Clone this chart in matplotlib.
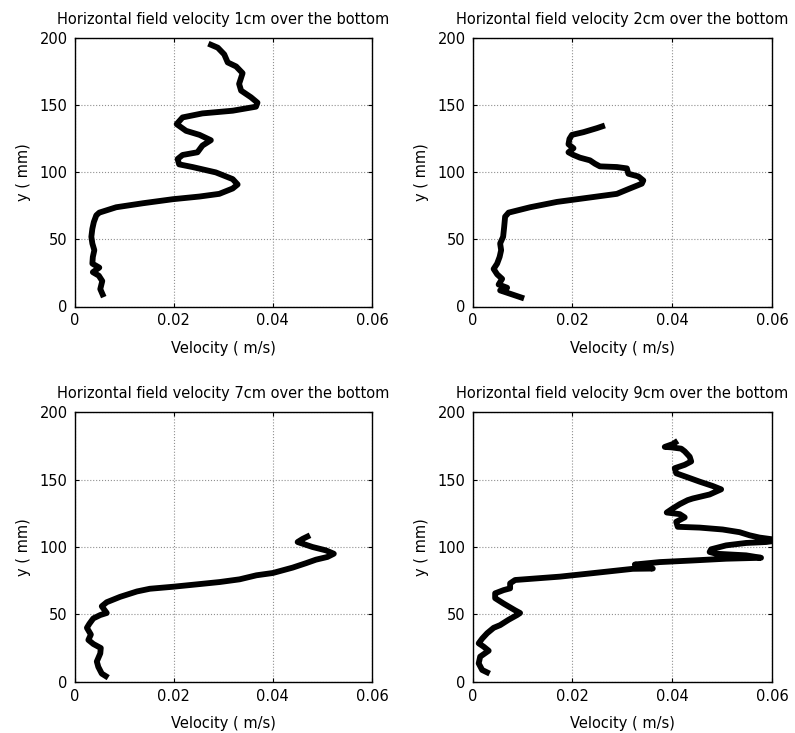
import matplotlib
matplotlib.use("Agg")
import matplotlib.pyplot as plt

plt.rcParams['font.family'] = ['DejaVu Sans']

titles = [
    "Horizontal field velocity 1cm over the bottom",
    "Horizontal field velocity 2cm over the bottom",
    "Horizontal field velocity 7cm over the bottom",
    "Horizontal field velocity 9cm over the bottom",
]

v1 = [0.0059, 0.0052, 0.0056, 0.0049, 0.0037, 0.0050, 0.0036, 0.0037, 0.0040, 0.0036,
      0.0034, 0.0036, 0.0039, 0.0044, 0.0050, 0.0084, 0.0138, 0.0198, 0.0252, 0.0292,
      0.0319, 0.0329, 0.0319, 0.0285, 0.0238, 0.0211, 0.0208, 0.0218, 0.0248, 0.0258,
      0.0275, 0.0252, 0.0225, 0.0206, 0.0218, 0.0258, 0.0319, 0.0366, 0.0369, 0.0356,
      0.0336, 0.0332, 0.0339, 0.0326, 0.0309, 0.0302, 0.0289, 0.0270]
y1 = [7, 13, 19, 23, 25.6, 29, 32, 37, 42, 47,
      52, 58, 63, 68, 70, 74, 77, 80, 82, 84,
      88, 91, 95, 100, 104, 106, 110, 113, 115, 120,
      124, 128, 131, 136, 141, 144, 146, 149, 152, 156,
      161, 166, 174, 179, 182, 188, 193, 196]

v2 = [0.0103, 0.0075, 0.0055, 0.0069, 0.0052, 0.0059, 0.0049, 0.0042, 0.0049, 0.0054,
      0.0057, 0.0055, 0.0061, 0.0063, 0.0065, 0.0072, 0.0115, 0.0169, 0.0209, 0.0249,
      0.0289, 0.0315, 0.0339, 0.0342, 0.0332, 0.0312, 0.0309, 0.0289, 0.0255, 0.0245,
      0.0235, 0.0215, 0.0202, 0.0192, 0.0202, 0.0192, 0.0194, 0.0199, 0.0222, 0.0249,
      0.0265]
y2 = [6, 9.5, 12, 14, 16.4, 20.6, 24, 28, 32, 37,
      42, 47, 52, 59, 67, 70, 74, 78, 80, 82,
      84, 88, 91.6, 94, 97, 99, 103, 104, 104.5, 106.5,
      109, 111, 113, 115, 118, 121, 125, 128, 130, 133,
      135]

v7 = [0.0068, 0.0055, 0.0048, 0.0045, 0.0052, 0.0053, 0.0038, 0.0028, 0.0033, 0.0025,
      0.0030, 0.0038, 0.0052, 0.0065, 0.0055, 0.0065, 0.0092, 0.0126, 0.0152, 0.0199,
      0.0253, 0.0293, 0.0333, 0.0367, 0.0400, 0.0440, 0.0467, 0.0487, 0.0510, 0.0523,
      0.0507, 0.0480, 0.0450, 0.0460, 0.0475]
y7 = [3, 6, 11, 15, 21, 25, 28, 31, 35, 40,
      43, 47, 49.5, 51, 56, 59, 63, 67, 69, 70.5,
      72.5, 74, 76, 79, 80.7, 84.7, 88, 90.6, 92.6, 95,
      97.5, 100, 103.7, 106, 108.7]

v9 = [0.0034, 0.0019, 0.0012, 0.0015, 0.0032, 0.0022, 0.0012, 0.0019, 0.0029, 0.0042,
      0.0055, 0.0072, 0.0089, 0.0095, 0.0085, 0.0062, 0.0045, 0.0045, 0.0062, 0.0075,
      0.0075, 0.0085, 0.0175, 0.0241, 0.0321, 0.0361, 0.0325, 0.0375, 0.0441, 0.0508,
      0.0578, 0.0548, 0.0488, 0.0475, 0.0478, 0.0508, 0.0548, 0.0588, 0.0615, 0.0575,
      0.0555, 0.0535, 0.0501, 0.0455, 0.0411, 0.0408, 0.0425, 0.0415, 0.0389, 0.0401,
      0.0415, 0.0431, 0.0441, 0.0475, 0.0498, 0.0481, 0.0455, 0.0431, 0.0408, 0.0405,
      0.0425, 0.0438, 0.0435, 0.0425, 0.0418, 0.0398, 0.0385, 0.0401, 0.0411]
y9 = [6, 8.7, 13.6, 18.6, 23, 26, 28.5, 32, 36, 40,
      42, 46, 49.5, 51, 53, 58, 62, 65.6, 68, 69.3,
      73, 75.5, 78, 80.6, 83.8, 84, 87, 88.8, 90, 91.3,
      92, 93.8, 95, 96.3, 98.3, 101.2, 103, 103.7, 105, 107,
      108.7, 111, 113, 114.4, 115, 118.7, 122, 124.4, 125.6, 128.6,
      131.8, 134.8, 136, 139, 142.8, 145.3, 148.5, 151.7, 154.7, 158.5,
      161, 163.5, 167, 171, 173, 174, 174.3, 176.4, 178.8]

series = [(v1, y1), (v2, y2), (v7, y7), (v9, y9)]

xticks = [0, 0.02, 0.04, 0.06]
xticklabels = ["0", "0.02", "0.04", "0.06"]
yticks = [0, 50, 100, 150, 200]

W, H = 795, 733
fig = plt.figure(figsize=(W / 100, H / 100), dpi=100)

boxes = [
    (74.5, 38.3, 372.0, 306.5),
    (472.7, 38.3, 772.0, 306.5),
    (74.5, 412.3, 372.0, 681.7),
    (472.7, 412.3, 772.0, 681.7),
]

fs = 10.5
for (x0, yt, x1, yb), (v, y), title in zip(boxes, series, titles):
    ax = fig.add_axes([x0 / W, 1 - yb / H, (x1 - x0) / W, (yb - yt) / H])
    ax.plot(v, y, color='black', lw=4.2, solid_capstyle='butt', solid_joinstyle='round')
    ax.set_xlim(0, 0.06)
    ax.set_ylim(0, 200)
    ax.set_xticks(xticks)
    ax.set_xticklabels(xticklabels)
    ax.set_yticks(yticks)
    ax.grid(True, color='#909090', linestyle=':', linewidth=0.8)
    ax.tick_params(direction='in', top=True, right=True, length=3, labelsize=fs, pad=5)
    for s in ax.spines.values():
        s.set_linewidth(1.0)
    ax.set_title(title, fontsize=fs, pad=10)
    ax.set_xlabel("Velocity ( m/s)", fontsize=fs, labelpad=9)
    ax.set_ylabel("y ( mm)", fontsize=fs, labelpad=6)

fig.savefig("out.png", dpi=100)
